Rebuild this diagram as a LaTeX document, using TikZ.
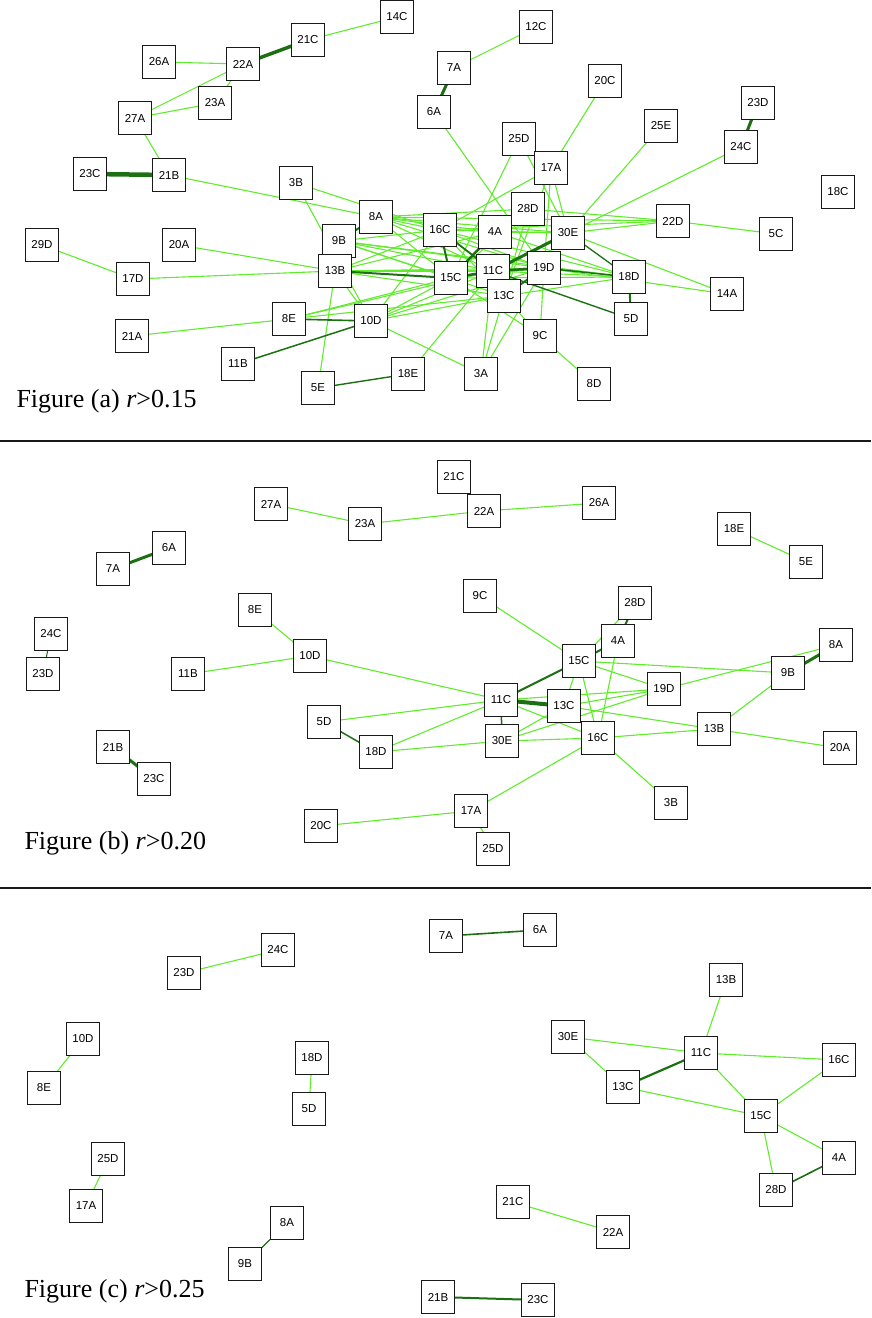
\documentclass[tikz,border=0pt]{standalone}
\usepackage{fontspec}
\setmainfont{Liberation Serif}
\newfontfamily\arialf{Liberation Sans}
\definecolor{lgreen}{RGB}{96,236,44}
\definecolor{dgreen}{RGB}{28,112,18}
\definecolor{boxline}{RGB}{25,25,25}
\pgfdeclarelayer{edgelayer}
\pgfsetlayers{edgelayer,main}
\begin{document}
\begin{tikzpicture}[x=1pt,y=-1pt,
  box/.style={draw=boxline,line width=1.5pt,fill=white,minimum size=33pt,inner sep=0pt,font=\arialf\fontsize{11.5}{13}\selectfont},
  el/.style={draw=lgreen,line width=1.1pt},
  ed/.style={draw=dgreen,line width=#1},
  caption/.style={anchor=base west,font=\fontsize{26}{30}\selectfont},
  sep/.style={draw=boxline,line width=2pt}]
\useasboundingbox (0,0) rectangle (871,1318);

% ---------------- Figure (a) ----------------
\foreach \n/\x/\y in {14C/397/17,21C/308/40,26A/159/62,22A/243/64,23A/215/103,27A/135/118,
  23C/90/174,21B/169/175,3B/296/183,12C/536/27,7A/454/68,6A/434/112,20C/605/81,25E/661/126,
  23D/758/103,24C/741/147,25D/519/139,17A/551/168,18C/838/192,28D/528/209,22D/673/221,30E/568/233,
  5C/776/234,16C/440/230,4A/495/232,8A/376/217,9B/339/241,13B/335/271,19D/544/268,11C/493/271,
  15C/451/278,18D/629/277,14A/727/294,13C/504/296,5D/631/319,9C/540/336,8E/289/319,10D/371/321,
  18E/408/374,3A/481/374,5E/318/388,8D/594/384,29D/42/245,20A/179/245,17D/133/279,21A/132/336,11B/238/364}
  \node[box] (a\n) at (\x,\y) {\n};
\node[caption] (capa) at (13,407) {Figure (a) \textit{r}>0.15};

\begin{pgfonlayer}{edgelayer}
\foreach \p/\q in {14C/21C,26A/22A,27A/22A,27A/23A,23A/22A,27A/21B,21B/8A,3B/16C,3B/10D,
  7A/12C,6A/19D,25D/15C,25D/30E,20C/17A,17A/16C,17A/19D,17A/13C,17A/30E,25E/30E,24C/30E,
  28D/22D,30E/22D,22D/5C,16C/22D,30E/14A,19D/14A,11C/18D,13C/18D,4A/18D,16C/18D,9B/18D,
  9C/8D,13C/9C,19D/9C,29D/17D,17D/13B,20A/13B,21A/8E,8E/15C,8E/11C,8E/13C,
  10D/15C,10D/11C,10D/13C,10D/19D,10D/16C,10D/3A,13B/10D,13B/5E,18E/11C,3A/13C,3A/11C,3A/19D,
  9C/15C,13B/16C,13B/4A,13B/11C,13B/19D,13B/13C,9B/15C,9B/11C,9B/13C,9B/19D,9B/16C,
  8A/16C,8A/4A,8A/28D,8A/30E,8A/22D,8A/11C,8A/19D,8A/15C,16C/30E,16C/19D,4A/30E,28D/13C,
  15C/28D,15C/19D,15C/18D,16C/13C}
  \draw[el] (a\p.center) -- (a\q.center);
\foreach \p/\q/\w in {21C/22A/3.5,7A/6A/3,23C/21B/4.5,23D/24C/3,11B/10D/1.5,8E/10D/1.6,
  18E/5E/1.4,9B/8A/2,13B/15C/2,16C/15C/2,15C/11C/2.5,11C/13C/2.5,15C/4A/2.5,16C/11C/1.8,
  11C/30E/3,11C/19D/2.5,13C/19D/2,11C/5D/1.4,18D/5D/2,4A/28D/1.5,30E/18D/1.3,19D/18D/1.5}
  \draw[ed=\w pt] (a\p.center) -- (a\q.center);
\end{pgfonlayer}

\draw[sep] (0,441) -- (871,441);

% ---------------- Figure (b) ----------------
\foreach \n/\x/\y in {21C/454/477,27A/271/504,23A/365/524,22A/484/511,26A/599/503,18E/734/529,
  5E/806/562,6A/169/548,7A/113/569,24C/51/634,23D/43/674,8E/255/610,11B/188/674,10D/310/656,
  9C/480/596,28D/635/603,4A/618/641,15C/579/661,8A/836/645,9B/788/673,19D/664/689,11C/501/700,
  13C/564/706,5D/324/722,13B/714/729,16C/598/738,30E/502/741,18D/376/752,20A/840/748,
  21B/113/747,23C/154/779,3B/671/803,17A/471/811,20C/321/826,25D/493/849}
  \node[box] (b\n) at (\x,\y) {\n};
\node[caption] (capb) at (21,849) {Figure (b) \textit{r}>0.20};

\begin{pgfonlayer}{edgelayer}
\foreach \p/\q in {27A/23A,23A/22A,22A/26A,21C/22A,18E/5E,8E/10D,11B/10D,10D/11C,9C/15C,
  11C/5D,11C/18D,18D/30E,30E/13C,30E/19D,30E/16C,11C/16C,11C/19D,15C/19D,15C/9B,19D/8A,
  9B/13B,13B/20A,13B/16C,13B/13C,15C/16C,4A/16C,15C/28D,16C/3B,16C/17A,17A/20C,13C/19D,
  15C/13C,17A/25D}
  \draw[el] (b\p.center) -- (b\q.center);
\foreach \p/\q/\w in {7A/6A/3,21B/23C/3,11C/13C/4,11C/15C/2,11C/30E/1.5,5D/18D/1.5,
  4A/28D/2,15C/4A/2,9B/8A/3,24C/23D/1}
  \draw[ed=\w pt] (b\p.center) -- (b\q.center);
\end{pgfonlayer}

\draw[sep] (0,888) -- (871,888);

% ---------------- Figure (c) ----------------
\foreach \n/\x/\y in {7A/446/936,6A/540/930,23D/184/973,24C/278/950,10D/83/1039,8E/44/1088,
  18D/312/1058,5D/309/1109,25D/108/1159,17A/86/1206,8A/287/1223,9B/245/1264,21B/438/1297,
  23C/538/1300,21C/513/1202,22A/613/1232,13B/726/980,30E/568/1037,11C/701/1053,16C/839/1060,
  13C/623/1087,15C/761/1116,4A/839/1158,28D/776/1190}
  \node[box] (c\n) at (\x,\y) {\n};
\node[caption] (capc) at (21,1297) {Figure (c) \textit{r}>0.25};

\begin{pgfonlayer}{edgelayer}
\foreach \p/\q in {23D/24C,10D/8E,18D/5D,25D/17A,21C/22A,13B/11C,30E/11C,30E/13C,13C/15C,
  11C/16C,11C/15C,16C/15C,15C/4A,15C/28D}
  \draw[el] (c\p.center) -- (c\q.center);
\foreach \p/\q/\w in {7A/6A/1.6,8A/9B/1.2,21B/23C/2,13C/11C/2.2,28D/4A/1.6}
  \draw[ed=\w pt] (c\p.center) -- (c\q.center);
\end{pgfonlayer}
\end{tikzpicture}
\end{document}
